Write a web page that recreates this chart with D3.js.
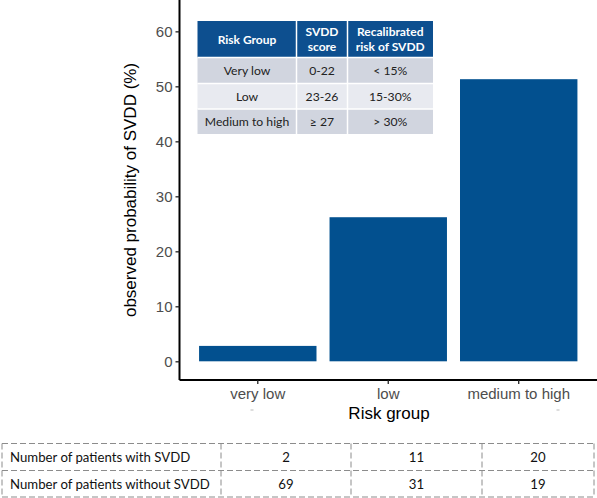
<!DOCTYPE html>
<html><head><meta charset="utf-8">
<script src="https://cdn.jsdelivr.net/npm/d3@7"></script>
<style>body{margin:0;background:#fff}svg{display:block}</style>
</head><body>
<svg id="c" width="597" height="498"></svg>
<script>
const categories = ["very low", "low", "medium to high"];
const probability = [2.8, 26.2, 51.3];
const yTicks = [0, 10, 20, 30, 40, 50, 60];
const withSVDD = [2, 11, 20];
const withoutSVDD = [69, 31, 19];
const insetHeader = [["Risk Group"], ["SVDD", "score"], ["Recalibrated", "risk of SVDD"]];
const insetRows = [["Very low", "0-22", "< 15%"], ["Low", "23-26", "15-30%"], ["Medium to high", "\u2265 27", "> 30%"]];
const countLabels = ["Number of patients with SVDD", "Number of patients without SVDD"];

const svg = d3.select("#c");
const blue = "#02508f";
const x = d3.scaleBand().domain(categories).range([179.5, 597]).paddingInner(0.1).paddingOuter(0.15);
const y = d3.scaleLinear().domain([-3.4, 65.7]).range([380, 0]);

// bars
svg.append("g").selectAll("rect").data(categories).join("rect")
  .attr("x", d => x(d)).attr("width", x.bandwidth())
  .attr("y", (d, i) => y(probability[i])).attr("height", (d, i) => y(0) - y(probability[i]))
  .attr("fill", blue);

// y axis
const ya = svg.append("g").attr("transform", "translate(179.5,0)")
  .call(d3.axisLeft(y).tickValues(yTicks).tickSize(4).tickPadding(3).tickFormat(d3.format("d")));
ya.select(".domain").attr("d", "M0,0V380").attr("stroke", "#000").attr("stroke-width", 2);
ya.selectAll(".tick line").attr("stroke", "#222").attr("stroke-width", 1.3);
ya.selectAll(".tick text").attr("fill", "#4d4d4d").style("font", "15px 'Liberation Sans', Arial, sans-serif");

// x axis
const xa = svg.append("g").attr("transform", "translate(0,380)")
  .call(d3.axisBottom(x).tickSize(4).tickPadding(4));
xa.select(".domain").attr("d", "M179.5,0H597").attr("stroke", "#000").attr("stroke-width", 2);
xa.selectAll(".tick line").attr("stroke", "#222").attr("stroke-width", 1.3);
xa.selectAll(".tick text").attr("fill", "#4d4d4d").style("font", "15px 'Liberation Sans', Arial, sans-serif");

// axis titles
svg.append("text").attr("x", 389).attr("y", 419).attr("text-anchor", "middle")
  .style("font", "17px 'Liberation Sans', Arial, sans-serif").attr("fill", "#000").text("Risk group");
svg.append("text").attr("transform", "translate(136,190) rotate(-90)").attr("text-anchor", "middle")
  .style("font", "17px 'Liberation Sans', Arial, sans-serif").attr("fill", "#000").text("observed probability of SVDD (%)");

// faint marks under tick labels
[252, 558].forEach(px => svg.append("line").attr("x1", px - 1.5).attr("x2", px + 1.5).attr("y1", 410).attr("y2", 410)
  .attr("stroke", "#bbb").attr("stroke-width", 1));

// inset table
const colX = [197.5, 296.5, 347.5, 433];
const rowY = [21, 57.5, 83.5, 109, 134];
const ins = svg.append("g");
const font = "'Lato', 'Open Sans', sans-serif";
ins.append("rect").attr("x", colX[0]).attr("y", rowY[0]).attr("width", colX[3] - colX[0]).attr("height", rowY[1] - rowY[0]).attr("fill", "#0d4f8f");
insetRows.forEach((r, i) => {
  ins.append("rect").attr("x", colX[0]).attr("y", rowY[i + 1]).attr("width", colX[3] - colX[0])
    .attr("height", rowY[i + 2] - rowY[i + 1]).attr("fill", i === 1 ? "#e8eaf0" : "#d1d5df");
});
colX.slice(1, 3).forEach(cx => ins.append("line").attr("x1", cx).attr("x2", cx).attr("y1", rowY[0]).attr("y2", rowY[4]).attr("stroke", "#fff").attr("stroke-width", 1.5));
rowY.slice(1, 4).forEach(ry => ins.append("line").attr("x1", colX[0]).attr("x2", colX[3]).attr("y1", ry).attr("y2", ry).attr("stroke", "#fff").attr("stroke-width", 1.5));
insetHeader.forEach((lines, j) => {
  const cx = (colX[j] + colX[j + 1]) / 2, cy = (rowY[0] + rowY[1]) / 2;
  const t = ins.append("text").attr("x", cx).attr("text-anchor", "middle").attr("fill", "#fff")
    .style("font", "bold 12px " + font);
  lines.forEach((l, k) => t.append("tspan").attr("x", cx)
    .attr("y", cy + 4.5 + (k - (lines.length - 1) / 2) * 15).text(l));
});
insetRows.forEach((r, i) => r.forEach((v, j) => {
  ins.append("text").attr("x", (colX[j] + colX[j + 1]) / 2).attr("y", (rowY[i + 1] + rowY[i + 2]) / 2 + 4.5)
    .attr("text-anchor", "middle").attr("fill", "#222").style("font", "12.2px " + font).text(v);
}));

// bottom count table
const tX = [2, 221, 351, 482, 594];
const tY = [443.5, 470.5, 497];
const bt = svg.append("g").attr("fill", "none").attr("stroke", "#8c8c8c").attr("stroke-width", 1).attr("stroke-dasharray", "6,3");
tY.forEach(ty => bt.append("line").attr("x1", tX[0]).attr("x2", tX[4]).attr("y1", ty).attr("y2", ty));
tX.forEach(tx => bt.append("line").attr("x1", tx).attr("x2", tx).attr("y1", tY[0]).attr("y2", tY[2]));
const rowsData = [withSVDD, withoutSVDD];
countLabels.forEach((lab, i) => {
  const cy = (tY[i] + tY[i + 1]) / 2 + 5;
  svg.append("text").attr("x", 10).attr("y", cy).attr("fill", "#111").style("font", "13.2px " + font).text(lab);
  rowsData[i].forEach((v, j) => svg.append("text").attr("x", (tX[j + 1] + tX[j + 2]) / 2).attr("y", cy)
    .attr("text-anchor", "middle").attr("fill", "#111").style("font", "13.2px " + font).text(v));
});
</script>
</body></html>
